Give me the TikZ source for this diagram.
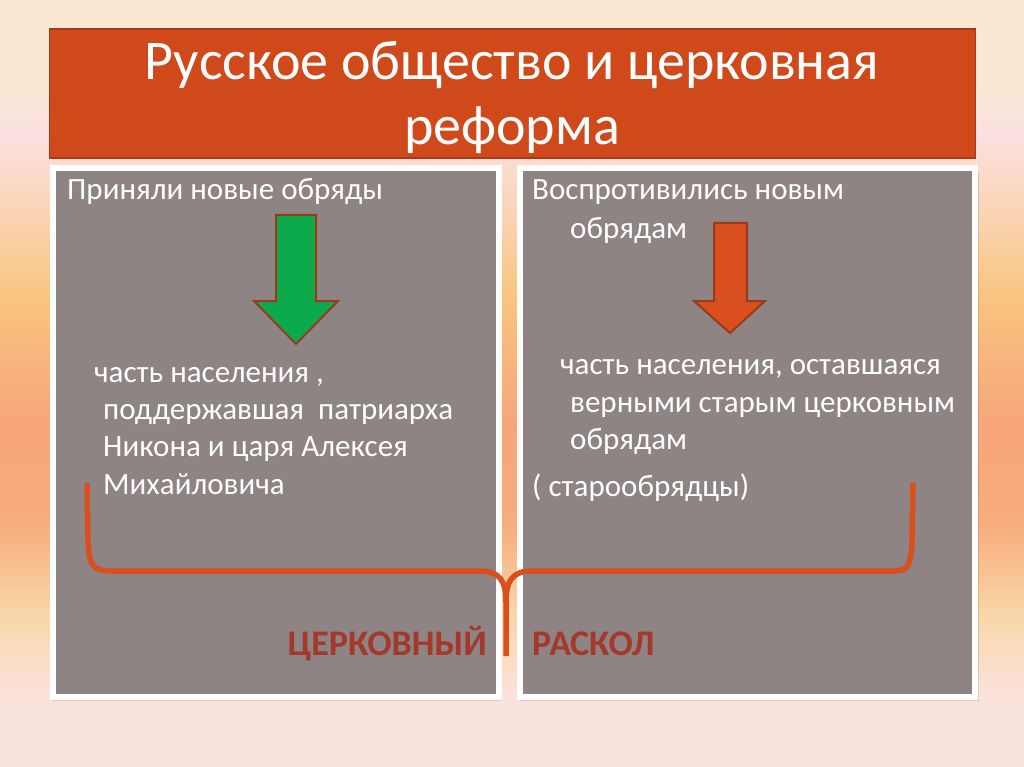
\documentclass[tikz,border=0pt]{standalone}
\usepackage{fontspec}
\setmainfont{Carlito}
\definecolor{titlered}{HTML}{D0491A}
\definecolor{titleedge}{HTML}{A8391A}
\definecolor{panelgray}{HTML}{8D8483}
\definecolor{bracered}{HTML}{D9501E}
\definecolor{labelred}{HTML}{A3382B}
\definecolor{arrowgreen}{HTML}{0CAA4A}
\definecolor{arrowred}{HTML}{D9501E}
\definecolor{arrowedge}{HTML}{9A3A1C}
\definecolor{bgcream}{HTML}{FAE8D3}
\definecolor{bgpink}{HTML}{FBE1E2}
\definecolor{bgpeach}{HTML}{FAD6BC}
\definecolor{bgyellow}{HTML}{F8C47E}
\definecolor{bgsalmon}{HTML}{F7A67B}
\definecolor{bglight}{HTML}{F9D6A8}
\definecolor{bgbot}{HTML}{FBE3DD}
\pgfdeclareverticalshading{bgshade}{100bp}{color(0bp)=(bgbot); color(29.5bp)=(bgbot); color(35bp)=(bglight); color(41bp)=(bgsalmon!80!bgyellow); color(47.5bp)=(bgsalmon); color(55.5bp)=(bgyellow); color(62bp)=(bgpeach); color(66.5bp)=(bgpink); color(69.5bp)=(bgcream); color(100bp)=(bgcream)}
\begin{document}
\begin{tikzpicture}[
  x=1pt, y=-1pt,
  panel/.style={draw=white, line width=6pt, fill=panelgray},
  body/.style={anchor=base west, inner sep=0pt, text=white, font=\fontsize{31}{37}\selectfont},
  titletext/.style={anchor=base, inner sep=0pt, text=white, font=\fontsize{56}{67}\selectfont},
  splitlabel/.style={inner sep=0pt, text=labelred, font=\bfseries\fontsize{36}{43}\selectfont},
  downarrow/.style={draw=arrowedge, line width=2pt, line join=miter}
]
\useasboundingbox (0,0) rectangle (1024,767);
\shade [shading=bgshade] (0,0) rectangle (1024,767);

\node (titlebox) [fill=titlered, draw=titleedge, line width=1.5pt, minimum width=926pt, minimum height=129pt, anchor=north west, inner sep=0pt] at (48.5,28.5) {};
\node (title1) [titletext] at (512,80) {Русское общество и церковная};
\node (title2) [titletext] at (512,145) {реформа};

\fill [black, opacity=0.12] (53,172) rectangle (502,701);
\fill [black, opacity=0.12] (520,172) rectangle (979,701);
\draw [panel] (53,168) rectangle (499,697);
\draw [panel] (520,168) rectangle (975,697);

\node (accepted) [body] at (67,200) {Приняли новые обряды};
\node (part1) [body] at (94,382) {часть населения ,};
\node (part2) [body] at (103,419) {поддержавшая\ \ патриарха};
\node (part3) [body] at (103,456) {Никона и царя Алексея};
\node (part4) [body] at (103,494) {Михайловича};

\node (opposed1) [body] at (532,200) {Воспротивились новым};
\node (opposed2) [body] at (570,238) {обрядам};
\node (rest1) [body] at (560,374) {часть населения, оставшаяся};
\node (rest2) [body] at (570,412) {верными старым церковным};
\node (rest3) [body] at (570,449) {обрядам};
\node (oldbel) [body] at (532,496) {( старообрядцы)};

\draw [downarrow, fill=arrowgreen] (276,215) -- (316,215) -- (316,301) -- (338,301) -- (296,344) -- (254,301) -- (276,301) -- cycle;
\draw [downarrow, fill=arrowred] (714,223) -- (747,223) -- (747,301) -- (765,301) -- (730,333) -- (694,301) -- (714,301) -- cycle;

\draw [bracered, line width=5.5pt, line join=round] (87,483) -- (88,540) .. controls (89,566) and (93,571) .. (112,571) -- (480,571) .. controls (499,571) and (506,580) .. (506,602) -- (506,656);
\draw [bracered, line width=5.5pt, line join=round] (506,602) .. controls (506,580) and (513,571) .. (532,571) -- (894,571) .. controls (908,571) and (911,566) .. (912,540) -- (913,483);

\node (church) [splitlabel, anchor=base east] at (487,655) {ЦЕРКОВНЫЙ};
\node (schism) [splitlabel, anchor=base west] at (532,655) {РАСКОЛ};
\end{tikzpicture}
\end{document}
